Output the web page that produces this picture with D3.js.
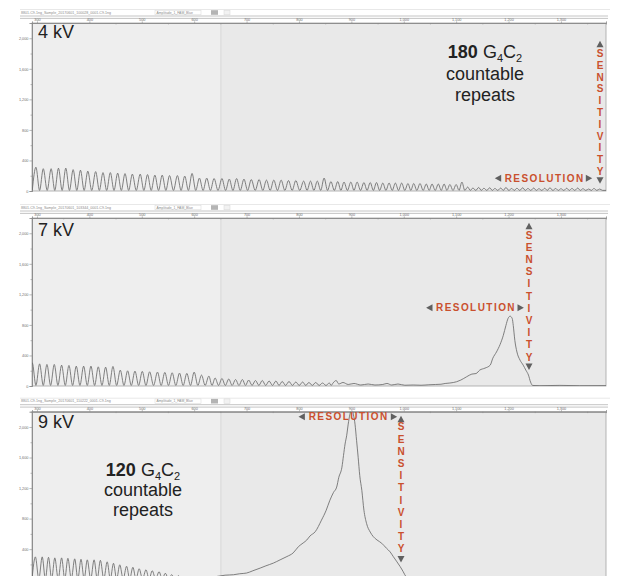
<!DOCTYPE html>
<html>
<head>
<meta charset="utf-8">
<script src="https://cdn.jsdelivr.net/npm/d3@7"></script>
<style>
  body { margin: 0; background: #fff; }
  svg { display: block; font-family: "Liberation Sans", Arial, sans-serif; }
</style>
</head>
<body>
<div id="chart"></div>
<script>
// axes
const sizeTicks = [300, 400, 500, 600, 700, 800, 900, 1000, 1100, 1200, 1300];
const sizeMinorTicks = [350, 450, 550, 650, 750, 850, 950, 1050, 1150, 1250, 1350];
const rfuTicks = [0, 400, 800, 1200, 1600, 2000];
const rfuMinorTicks = [200, 600, 1000, 1400, 1800];

const voltages = ["4 kV", "7 kV", "9 kV"];
const runNames = [
  "8801-C9-1ng_Sample_20170601_100028_0001-C9-1ng",
  "8801-C9-1ng_Sample_20170601_103344_0001-C9-1ng",
  "8801-C9-1ng_Sample_20170601_110222_0001-C9-1ng"
];

// 4 kV: repeat peaks (position, height)
const kv4RepeatX = [298, 312, 327, 341, 355, 369, 383, 397, 412, 426, 440, 454, 468, 482, 497, 511, 525, 539, 553, 568,
  582, 596, 610, 624, 638, 653, 667, 681, 695, 709, 724, 738, 752, 766, 780, 794, 809,
  822, 835, 848, 861, 874, 886, 899, 911, 924, 936, 948, 960, 972, 984, 996, 1008, 1019, 1031, 1043, 1054, 1066, 1077, 1088, 1100, 1111,
  1122, 1132, 1143, 1153, 1164, 1174, 1185, 1195, 1206, 1216, 1227, 1237, 1248, 1258, 1269, 1279, 1290, 1300, 1311, 1321, 1332, 1342, 1353, 1363, 1374];
const kv4RepeatH = [312, 292, 292, 299, 299, 280, 273, 260, 254, 241, 241, 234, 228, 221, 221, 215, 208, 208, 202, 202,
  195, 230, 169, 169, 163, 163, 156, 163, 156, 150, 150, 143, 143, 143, 137, 137, 130,
  130, 130, 170, 124, 124, 117, 117, 117, 111, 111, 111, 104, 104, 104, 104, 98, 98, 98, 91, 91, 91, 91, 85, 85, 117,
  52, 39, 46, 36, 42, 33, 39, 46, 33, 36, 42, 33, 39, 30, 36, 42, 33, 30, 36, 33, 39, 30, 26, 33, 26];

// 7 kV
const kv7RepeatX = [291, 305, 319, 333, 347, 361, 375, 389, 403, 417, 431, 445, 459, 473, 487, 501, 515, 530, 544, 558,
  572, 586, 600, 614, 628,
  640, 653, 666, 679, 692, 704, 717, 730, 743, 756, 768, 781, 794, 807, 819, 832, 845, 858];
const kv7RepeatH = [303, 290, 282, 282, 273, 269, 260, 260, 260, 251, 247, 256, 208, 199, 195, 191, 186, 182, 178, 173,
  169, 165, 182, 143, 130,
  104, 98, 91, 85, 85, 78, 72, 72, 65, 65, 59, 59, 52, 52, 46, 46, 39, 39];
const kv7ProfileX = [865, 871, 876, 884, 894, 905, 918, 932, 945, 960, 968, 977, 989, 1002, 1018, 1033, 1048, 1061, 1071,
  1079, 1088, 1101, 1109, 1120, 1130, 1138, 1145, 1155, 1165, 1170, 1177, 1184, 1190, 1195, 1199, 1203, 1207, 1209, 1212,
  1216, 1222, 1228, 1233, 1238, 1242, 1246, 1260, 1298, 1336, 1386];
const kv7ProfileH = [39, 72, 26, 46, 20, 33, 13, 26, 13, 20, 33, 13, 26, 10, 13, 10, 16, 20, 23,
  33, 39, 56, 78, 121, 156, 163, 208, 234, 273, 364, 446, 546, 663, 793, 884, 914, 884, 793, 598,
  446, 338, 273, 208, 143, 52, 7, 4, 8, 4, 5];

// 9 kV
const kv9RepeatX = [297, 310, 322, 334, 347, 359, 372, 384, 396, 409, 421, 434, 446, 458, 471, 483, 495, 508, 520, 533,
  545, 557, 570, 582, 595];
const kv9RepeatH = [299, 299, 293, 286, 286, 280, 273, 267, 260, 260, 254, 234, 215, 195, 176, 163, 143, 130, 117, 104,
  85, 65, 52, 39, 33];
const kv9ProfileX = [607, 621, 640, 659, 675, 687, 700, 712, 726, 737, 751, 764, 777, 789, 799, 808, 815, 821, 831, 843,
  852, 859, 866, 872, 876, 882, 885, 888, 891, 894, 897, 901, 904, 907, 910, 913, 916, 920, 924, 929,
  936, 942, 949, 958, 967, 974, 980, 987, 993, 999, 1002, 1006, 1012, 1050, 1145, 1260, 1386];
const kv9ProfileH = [13, 26, 39, 59, 65, 78, 87, 117, 152, 182, 217, 260, 303, 351, 433, 481, 520, 572, 628, 780,
  910, 1040, 1144, 1213, 1339, 1473, 1625, 1777, 1885, 2037, 2158, 2236, 2158, 2037, 1820, 1603, 1365, 1170, 910, 737,
  624, 563, 520, 477, 412, 364, 303, 234, 173, 104, 65, 26, 7, 4, 7, 4, 5];

const troughLevel = [8, 8, 8];

// layout
const W = 620, H = 576;
const plotL = 32, plotR = 606, plotH = 168;
const dividerAt = 651;
const accent = "#c9502e";
const arrowGrey = "#606060";

const panels = [
  {
    top: 23, kvY: 38, xs: kv4RepeatX, hs: kv4RepeatH,
    count: { n: "180", cx: 485, ys: [58, 80, 101] },
    res: { cx: 544, cy: 178.3, l: 498, r: 589 },
    sens: { x: 600, up: 44, first: 53.3, step: 11.8, down: 180.5 }
  },
  {
    top: 218, kvY: 236, xs: kv7RepeatX, hs: kv7RepeatH, px: kv7ProfileX, ph: kv7ProfileH,
    res: { cx: 475.3, cy: 307.7, l: 429.3, r: 520.7 },
    sens: { x: 529, up: 226, first: 235, step: 12.2, down: 366.7 }
  },
  {
    top: 411.7, kvY: 428, xs: kv9RepeatX, hs: kv9RepeatH, px: kv9ProfileX, ph: kv9ProfileH,
    count: { n: "120", cx: 143, ys: [476, 496, 516] },
    res: { cx: 348, cy: 416.7, l: 301.7, r: 394 },
    sens: { x: 401, up: 419, first: 426.7, step: 12.2, down: 559.3 }
  }
];

const svg = d3.select("#chart").append("svg")
  .attr("width", W)
  .attr("height", H);

const x = d3.scaleLinear().domain([290.5, 1386]).range([plotL, plotR]);

// peaks with a trough between each pair, then the explicit profile
function tracePoints(xs, hs, trough, px, ph) {
  const pts = [];
  pts.push([xs[0] - (xs[1] - xs[0]) / 2, trough]);
  xs.forEach((v, i) => {
    pts.push([v, hs[i]]);
    let next;
    if (i < xs.length - 1) next = xs[i + 1];
    else if (px) next = px[0];
    else next = v + (v - xs[i - 1]);
    pts.push([(v + next) / 2, trough]);
  });
  if (px) px.forEach((v, i) => pts.push([v, ph[i]]));
  else pts.push([x.domain()[1], trough]);
  return pts;
}

function triangle(g, cx, cy, dir) {
  const w = 3.5, h = 3.2;
  let p;
  if (dir === "up") p = [[cx - w, cy + h], [cx + w, cy + h], [cx, cy - h]];
  if (dir === "down") p = [[cx - w, cy - h], [cx + w, cy - h], [cx, cy + h]];
  if (dir === "left") p = [[cx + h, cy - w], [cx + h, cy + w], [cx - h, cy]];
  if (dir === "right") p = [[cx - h, cy - w], [cx - h, cy + w], [cx + h, cy]];
  g.append("path").attr("d", "M" + p.join("L") + "Z").attr("fill", arrowGrey);
}

panels.forEach((p, i) => {
  const T = p.top;
  const g = svg.append("g");
  const y = d3.scaleLinear().domain([0, 2200]).range([T + plotH, T]);

  // window chrome above each trace
  g.append("line").attr("x1", 20).attr("x2", 610).attr("y1", T - 13.5).attr("y2", T - 13.5)
    .attr("stroke", "#e2e2e2").attr("stroke-width", 0.8);
  g.append("text").attr("x", 21).attr("y", T - 9.3)
    .attr("font-size", 3.6).attr("fill", "#8a8a8a").text(runNames[i]);
  g.append("rect").attr("x", 155).attr("y", T - 12.8).attr("width", 46).attr("height", 4.6)
    .attr("fill", "#fff").attr("stroke", "#d6d6d6").attr("stroke-width", 0.5);
  g.append("text").attr("x", 156.5).attr("y", T - 9.3)
    .attr("font-size", 3.4).attr("fill", "#8a8a8a").text("Amplitude_1_FAM_Blue");
  g.append("rect").attr("x", 211).attr("y", T - 12.8).attr("width", 7).attr("height", 4.6)
    .attr("fill", "#b4b4b4");
  g.append("rect").attr("x", 224).attr("y", T - 12.8).attr("width", 6).attr("height", 4.6)
    .attr("fill", "#f2f2f2").attr("stroke", "#d6d6d6").attr("stroke-width", 0.5);
  [T - 7, T - 4.6].forEach(ly => {
    g.append("line").attr("x1", 20).attr("x2", 608).attr("y1", ly).attr("y2", ly)
      .attr("stroke", "#bdbdbd").attr("stroke-width", 0.9);
  });

  // plot background
  g.append("rect").attr("x", plotL).attr("y", T).attr("width", x(dividerAt) - plotL).attr("height", plotH)
    .attr("fill", "#eeeeee");
  g.append("rect").attr("x", x(dividerAt)).attr("y", T).attr("width", plotR - x(dividerAt)).attr("height", plotH)
    .attr("fill", "#e9e9e9");
  g.append("line").attr("x1", x(dividerAt)).attr("x2", x(dividerAt)).attr("y1", T).attr("y2", T + plotH)
    .attr("stroke", "#d2d2d2").attr("stroke-width", 0.8);
  g.append("rect").attr("x", plotL).attr("y", T).attr("width", plotR - plotL).attr("height", plotH)
    .attr("fill", "none").attr("stroke", "#a4a4a4").attr("stroke-width", 0.8);

  // top size axis
  g.append("g").attr("transform", `translate(0,${T})`)
    .call(d3.axisTop(x).tickValues(sizeTicks).tickSize(1.6).tickPadding(0.6));
  g.append("g").attr("transform", `translate(0,${T})`)
    .call(d3.axisBottom(x).tickValues(sizeMinorTicks).tickSize(1.4).tickFormat(""));
  // left intensity axis, only the ticks that fall inside the picture
  const inView = v => y(v) < H - 3;
  g.append("g").attr("transform", `translate(${plotL},0)`)
    .call(d3.axisLeft(y).tickValues(rfuTicks.filter(inView)).tickSize(2.6).tickPadding(1));
  g.append("g").attr("transform", `translate(${plotL},0)`)
    .call(d3.axisLeft(y).tickValues(rfuMinorTicks.filter(inView)).tickSize(1.5).tickFormat(""));
  g.selectAll(".domain").attr("stroke", "#8c8c8c").attr("stroke-width", 0.8);
  g.selectAll(".tick line").attr("stroke", "#8c8c8c").attr("stroke-width", 0.6);
  g.selectAll(".tick text").attr("fill", "#707070").attr("font-size", 3.8)
    .attr("font-family", "Liberation Sans, Arial, sans-serif");

  // trace
  g.append("clipPath").attr("id", "clip" + i)
    .append("rect").attr("x", plotL).attr("y", T).attr("width", plotR - plotL).attr("height", plotH);
  const line = d3.line()
    .x(d => x(d[0]))
    .y(d => y(d[1]))
    .curve(d3.curveMonotoneX);
  g.append("path")
    .datum(tracePoints(p.xs, p.hs, troughLevel[i], p.px, p.ph))
    .attr("clip-path", `url(#clip${i})`)
    .attr("d", line)
    .attr("fill", "none")
    .attr("stroke", "#6a6a6a")
    .attr("stroke-width", 0.85)
    .attr("stroke-linejoin", "round");

  // voltage label
  g.append("text").attr("x", 38).attr("y", p.kvY)
    .attr("font-size", 18).attr("fill", "#222").text(voltages[i]);

  // countable repeats label
  if (p.count) {
    const c = p.count;
    const t = g.append("text").attr("x", c.cx).attr("y", c.ys[0])
      .attr("text-anchor", "middle").attr("font-size", 18).attr("fill", "#222");
    t.append("tspan").attr("font-weight", "bold").text(c.n);
    t.append("tspan").text(" G");
    t.append("tspan").attr("font-size", 11).attr("dy", 4).text("4");
    t.append("tspan").attr("dy", -4).text("C");
    t.append("tspan").attr("font-size", 11).attr("dy", 4).text("2");
    ["countable", "repeats"].forEach((s, k) => {
      g.append("text").attr("x", c.cx).attr("y", c.ys[k + 1])
        .attr("text-anchor", "middle").attr("font-size", 18).attr("fill", "#222").text(s);
    });
  }

  // RESOLUTION arrow
  const r = p.res;
  triangle(g, r.l, r.cy, "left");
  triangle(g, r.r, r.cy, "right");
  g.append("text").attr("x", r.cx + 0.7).attr("y", r.cy + 3.6)
    .attr("text-anchor", "middle").attr("font-size", 10).attr("font-weight", "bold")
    .attr("letter-spacing", 1.45).attr("fill", accent).text("RESOLUTION");

  // SENSITIVITY arrow
  const s = p.sens;
  triangle(g, s.x, s.up, "up");
  triangle(g, s.x, s.down, "down");
  "SENSITIVITY".split("").forEach((ch, k) => {
    g.append("text").attr("x", s.x).attr("y", s.first + k * s.step + 3.6)
      .attr("text-anchor", "middle").attr("font-size", 10).attr("font-weight", "bold")
      .attr("fill", accent).text(ch);
  });
});
</script>
</body>
</html>
